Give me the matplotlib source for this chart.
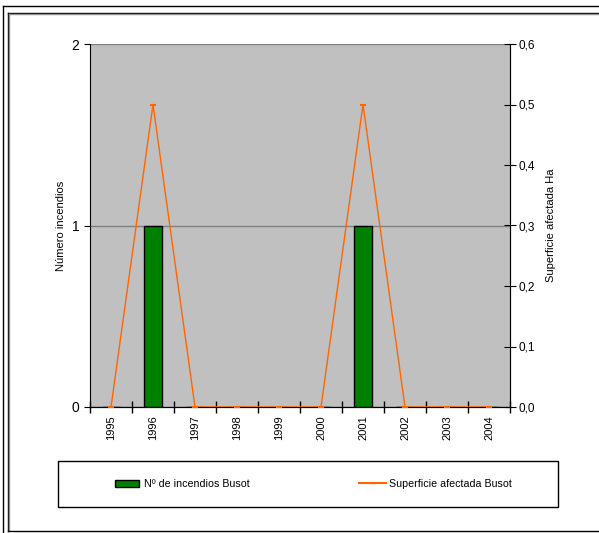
import numpy as np
import matplotlib.pyplot as plt
from matplotlib.patches import Rectangle
from matplotlib.lines import Line2D
from matplotlib.patches import Patch

plt.rcParams['font.family'] = ['Liberation Sans', 'DejaVu Sans']

# Datos
anios = ['1995', '1996', '1997', '1998', '1999', '2000', '2001', '2002', '2003', '2004']
incendios = [0, 1, 0, 0, 0, 0, 1, 0, 0, 0]
superficie = [0, 0.5, 0, 0, 0, 0, 0.5, 0, 0, 0]

verde = '#008000'
naranja = '#FF6600'

W, H = 599, 533
fig = plt.figure(figsize=(5.99, 5.33), dpi=100)
ax = fig.add_axes([90 / W, 1 - 407 / H, 420 / W, 363 / H])
ax.set_facecolor('#C0C0C0')

x = np.arange(len(anios))
ax.bar(x, incendios, width=0.42, color=verde, edgecolor='black', linewidth=1, zorder=3)
ax.set_xlim(-0.5, len(anios) - 0.5)
ax.set_ylim(0, 2)
ax.set_yticks([0, 1, 2])
ax.grid(axis='y', color='#808080', linewidth=1, zorder=1)
ax.set_axisbelow(True)

# Ticks del eje X entre categorias, etiquetas en el centro
ax.set_xticks(x)
ax.set_xticklabels(anios, rotation=90, fontsize=8)
ax.tick_params(axis='x', length=0, pad=6)
ax.set_xticks(np.arange(-0.5, len(anios), 1), minor=True)
ax.tick_params(axis='x', which='minor', direction='inout', length=8, width=1)
ax.tick_params(axis='y', direction='out', length=4, labelsize=10)
ax.set_ylabel('Número incendios', fontsize=8, labelpad=4)

ax.spines['top'].set_visible(False)
for s in ['left', 'right', 'bottom']:
    ax.spines[s].set_color('black')

ax2 = ax.twinx()
ax2.plot(x, superficie, color=naranja, linewidth=1, marker='_', markersize=5,
         markeredgewidth=1.5, zorder=4)
ax2.set_ylim(0, 0.6)
ax2.set_yticks(np.arange(0, 0.61, 0.1))
ax2.set_yticklabels([f'{v:.1f}'.replace('.', ',') for v in np.arange(0, 0.61, 0.1)], fontsize=8.5)
ax2.tick_params(axis='y', direction='inout', length=8, pad=2)
ax2.set_ylabel('Superficie afectada Ha', fontsize=8, labelpad=8)
ax2.spines['top'].set_visible(False)
ax2.spines['left'].set_visible(False)

# Leyenda con marco
fig.patches.append(Rectangle((58 / W, 1 - 507 / H), 500 / W, 46 / H,
                             transform=fig.transFigure, fill=False,
                             edgecolor='black', linewidth=1))
h1 = [Patch(facecolor=verde, edgecolor='black', label='Nº de incendios Busot')]
h2 = [Line2D([], [], color=naranja, marker='_', markersize=5, label='Superficie afectada Busot')]
fig.legend(handles=h1, loc='center left', bbox_to_anchor=(115 / W, 1 - 484 / H),
           frameon=False, fontsize=7.7, handlelength=2.2, handleheight=0.6,
           handletextpad=0.5, borderpad=0, borderaxespad=0)
fig.legend(handles=h2, loc='center left', bbox_to_anchor=(359 / W, 1 - 484 / H),
           frameon=False, fontsize=7.7, handlelength=2.5, handletextpad=0.3,
           borderpad=0, borderaxespad=0)

# Marcos exteriores (en pixeles de la figura)
def linea(xs, ys, color='black', lw=1):
    fig.lines.append(Line2D([v / W for v in xs], [1 - v / H for v in ys],
                            transform=fig.transFigure, color=color, linewidth=lw))

linea([2.5, W], [5.5, 5.5])
linea([2.5, 2.5], [5.5, H])
linea([7.5, W], [12.5, 12.5])
linea([8.5, W], [13.5, 13.5], color='#909090')
linea([7.5, 7.5], [12.5, 530.5])
linea([8.5, 8.5], [13.5, 529.5], color='#909090')
linea([7.5, W], [530.5, 530.5])

fig.savefig('out.png', dpi=100)
